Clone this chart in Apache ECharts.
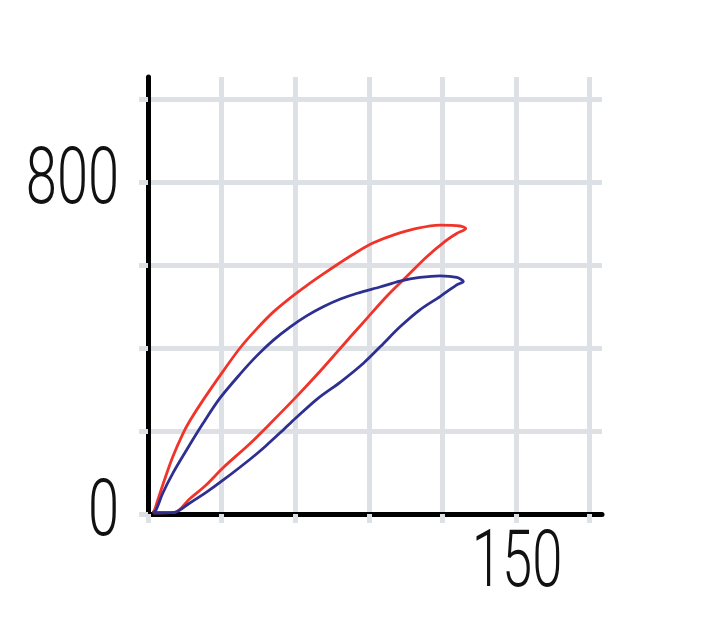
<!DOCTYPE html>
<html>
<head>
<meta charset="utf-8">
<script src="https://cdn.jsdelivr.net/npm/echarts@6/dist/echarts.min.js"></script>
<style>
  html, body { margin: 0; padding: 0; background: #fff; }
  #chart { width: 712px; height: 640px; }
</style>
</head>
<body>
<div id="chart"></div>
<script>
// loops: lower branch out to the tip, upper branch back
const redLoop = [
  [2, 3], [10.8, 4], [16.9, 36], [23.7, 70], [30.7, 112], [41.6, 170], [49.8, 218],
  [60.7, 284], [68.9, 336], [77, 390], [82.5, 427], [89.3, 472], [97.2, 524],
  [105.4, 572], [113.6, 620], [121.7, 660], [125.8, 676], [129.5, 688],
  [127.1, 694], [119, 696], [109.5, 688], [99.9, 672], [92.1, 654], [85.3, 632],
  [78.4, 606], [71.6, 579], [64.8, 551], [58, 521], [51.1, 487], [44.3, 446],
  [37.5, 400], [30.7, 345], [22.5, 275], [17, 224], [14.2, 193], [10.1, 138],
  [6.7, 82], [4, 34], [2.7, 10], [2, 3]
];
const blueLoop = [
  [2, 3], [10.8, 4], [16.9, 26], [23.7, 52], [30.7, 82], [41.6, 132], [48, 164],
  [55, 202], [60, 230], [68.9, 277], [78.4, 318], [87.9, 364], [94.8, 404],
  [102.7, 451], [110.8, 492], [119, 524], [125.8, 552], [128.5, 560],
  [125.8, 570], [119, 574], [110.8, 570], [102.7, 561], [94.5, 547], [85.3, 532],
  [78.4, 518], [71.6, 500], [64.8, 478], [58, 451], [51.1, 419], [44.3, 381],
  [37.5, 337], [29.3, 279], [22.5, 219], [15.6, 153], [10.1, 98], [6, 50],
  [3.3, 10], [2, 3]
];
const xTicks = [0, 30, 60, 90, 120, 150, 180];
const yTicks = [0, 200, 400, 600, 800, 1000];
const xLabels = [150];
const yLabels = [0, 800];

const gridGray = '#dde1e6';
const labelStyle = {
  fontFamily: 'Roboto, "Open Sans", sans-serif',
  fontWeight: 300,
  fontSize: 80,
  fill: '#111'
};

const chart = echarts.init(document.getElementById('chart'));
chart.setOption({
  animation: false,
  grid: { left: 148, right: 110, top: 77, bottom: 126, outerBoundsMode: 'none' },
  xAxis: {
    type: 'value', min: 0, max: 185, interval: 30,
    axisLine: { show: true, lineStyle: { color: '#000', width: 5 } },
    axisTick: { show: true, length: 9, customValues: xTicks,
      lineStyle: { color: gridGray, width: 5 } },
    splitLine: { show: true, lineStyle: { width: 5,
      color: xTicks.map(() => gridGray).concat(['rgba(0,0,0,0)']) } },
    axisLabel: { show: false }
  },
  yAxis: {
    type: 'value', min: 0, max: 1053, interval: 200,
    axisLine: { show: true, lineStyle: { color: '#000', width: 5 } },
    axisTick: { show: true, length: 9, customValues: yTicks,
      lineStyle: { color: gridGray, width: 5 } },
    splitLine: { show: true, lineStyle: { width: 5,
      color: yTicks.map(() => gridGray).concat(['rgba(0,0,0,0)']) } },
    axisLabel: { show: false }
  },
  series: [
    { type: 'line', data: redLoop, showSymbol: false, smooth: 0.3,
      lineStyle: { color: '#f0342a', width: 2.8 } },
    { type: 'line', data: blueLoop, showSymbol: false, smooth: 0.3,
      lineStyle: { color: '#2d3090', width: 2.8 } }
  ]
});

// condensed tick labels, placed with the axes' own scale
const labels = [];
xLabels.forEach(v => {
  const p = chart.convertToPixel({ gridIndex: 0 }, [v, 0]);
  labels.push({ type: 'text', x: p[0] + 1, y: p[1] + 52, scaleX: 0.68, silent: true,
    style: Object.assign({ text: String(v), align: 'center', verticalAlign: 'middle' }, labelStyle) });
});
yLabels.forEach(v => {
  const p = chart.convertToPixel({ gridIndex: 0 }, [0, v]);
  labels.push({ type: 'text', x: p[0] - 29, y: p[1] + 1, scaleX: 0.7, silent: true,
    style: Object.assign({ text: String(v), align: 'right', verticalAlign: 'middle' }, labelStyle) });
});
chart.setOption({ graphic: labels });
</script>
</body>
</html>
